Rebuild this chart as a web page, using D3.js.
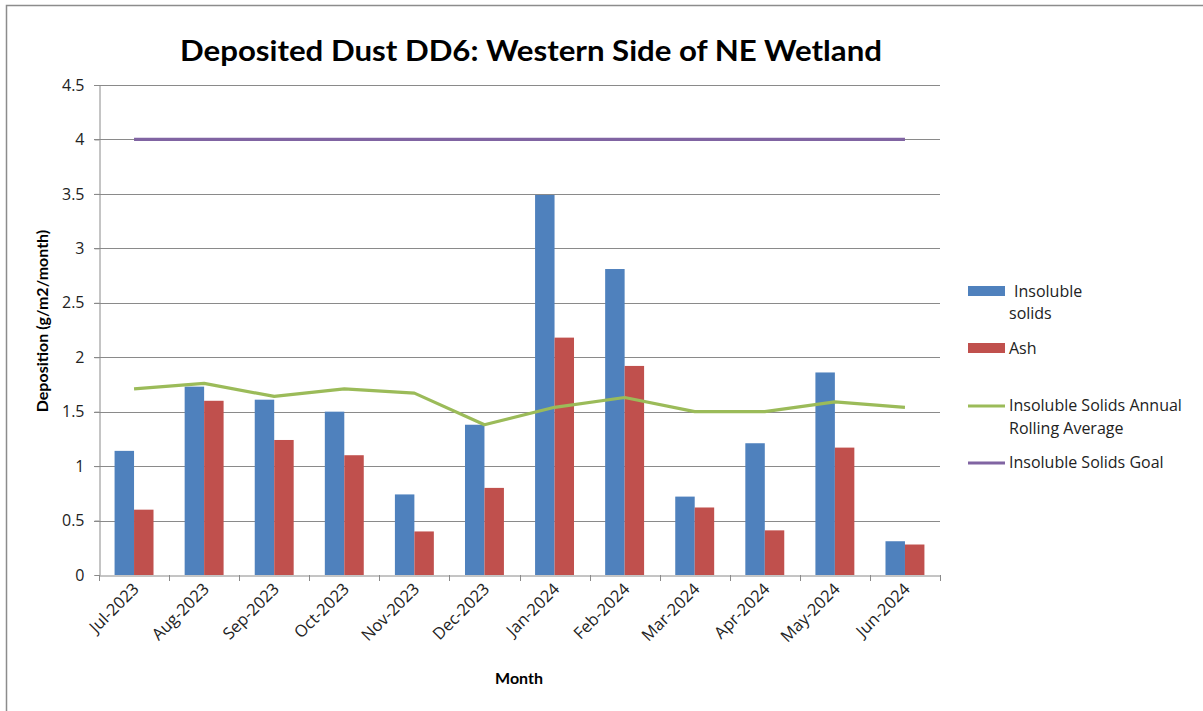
<!DOCTYPE html>
<html>
<head>
<meta charset="utf-8">
<script src="https://cdn.jsdelivr.net/npm/d3@7"></script>
<style>
  html, body { margin: 0; padding: 0; background: #fff; }
  svg { display: block; font-family: Lato, "Open Sans", "Liberation Sans", sans-serif; }
</style>
</head>
<body>
<svg id="chart" width="1203" height="711"></svg>
<script>
// Monthly deposited dust results, DD6
const months = ["Jul-2023", "Aug-2023", "Sep-2023", "Oct-2023", "Nov-2023", "Dec-2023",
                "Jan-2024", "Feb-2024", "Mar-2024", "Apr-2024", "May-2024", "Jun-2024"];
const insolubleSolids = [1.14, 1.73, 1.61, 1.50, 0.74, 1.38, 3.49, 2.81, 0.72, 1.21, 1.86, 0.31];
const ash = [0.60, 1.60, 1.24, 1.10, 0.40, 0.80, 2.18, 1.92, 0.62, 0.41, 1.17, 0.28];
const rollingAverage = [1.71, 1.76, 1.64, 1.71, 1.67, 1.38, 1.54, 1.63, 1.50, 1.50, 1.59, 1.54];
const goal = [4, 4, 4, 4, 4, 4, 4, 4, 4, 4, 4, 4];
const yTicks = [0, 0.5, 1, 1.5, 2, 2.5, 3, 3.5, 4, 4.5];

const colors = { insoluble: "#4f81bd", ash: "#c0504d", rolling: "#9bbb59", goal: "#8064a2" };

const svg = d3.select("#chart");
const m = { left: 99, right: 940, top: 85, bottom: 575 };

// outer frame
svg.append("rect")
  .attr("x", 6.5).attr("y", 5.5).attr("width", 1210).attr("height", 720)
  .attr("fill", "none").attr("stroke", "#8c8c8c").attr("stroke-width", 1.5);

const x = d3.scaleBand().domain(months).range([m.left, m.right]).paddingInner(0).paddingOuter(0);
const xSub = d3.scaleBand().domain(["ins", "ash"]).range([0, x.bandwidth()]).paddingOuter(0.8).paddingInner(0);
const y = d3.scaleLinear().domain([0, 4.5]).range([m.bottom, m.top]);

// horizontal gridlines
svg.append("g").selectAll("line").data(yTicks.filter(t => t > 0)).join("line")
  .attr("x1", m.left - 5).attr("x2", m.right)
  .attr("y1", d => Math.round(y(d)) + 0.5).attr("y2", d => Math.round(y(d)) + 0.5)
  .attr("stroke", "#8a8a8a").attr("stroke-width", 1);

// y axis
const yAxis = svg.append("g").attr("transform", `translate(${m.left + 0.5},0)`)
  .call(d3.axisLeft(y).tickValues(yTicks).tickSize(5).tickPadding(10).tickFormat(d => String(d)));
yAxis.select(".domain").attr("stroke", "#8a8a8a");
yAxis.selectAll(".tick line").attr("stroke", "#8a8a8a");
yAxis.selectAll(".tick text").attr("font-size", 16).attr("fill", "#222")
  .attr("font-family", "'Open Sans', Lato, sans-serif");

// bars
const groups = svg.append("g").selectAll("g").data(months).join("g")
  .attr("transform", d => `translate(${x(d)},0)`);
groups.append("rect")
  .attr("x", d => xSub("ins")).attr("width", xSub.bandwidth())
  .attr("y", (d, i) => y(insolubleSolids[i])).attr("height", (d, i) => y(0) - y(insolubleSolids[i]))
  .attr("fill", colors.insoluble);
groups.append("rect")
  .attr("x", d => xSub("ash")).attr("width", xSub.bandwidth())
  .attr("y", (d, i) => y(ash[i])).attr("height", (d, i) => y(0) - y(ash[i]))
  .attr("fill", colors.ash);

// x axis
const xAxis = svg.append("g").attr("transform", `translate(0,${m.bottom + 0.5})`)
  .call(d3.axisBottom(x).tickSize(0).tickFormat(""));
xAxis.select(".domain").attr("stroke", "#8a8a8a");
const edges = months.map(d => x(d)).concat([m.right]);
svg.append("g").selectAll("line").data(edges).join("line")
  .attr("x1", d => Math.round(d) + 0.5).attr("x2", d => Math.round(d) + 0.5)
  .attr("y1", m.bottom).attr("y2", m.bottom + 6).attr("stroke", "#8a8a8a");
svg.append("g").selectAll("text").data(months).join("text")
  .attr("transform", d => `translate(${x(d) + x.bandwidth() / 2 + 6},${m.bottom + 15}) rotate(-45)`)
  .attr("text-anchor", "end").attr("font-size", 16.5).attr("fill", "#222")
  .attr("font-family", "'Open Sans', Lato, sans-serif")
  .text(d => d);

// lines
const cx = d => x(d) + x.bandwidth() / 2;
const line = vals => d3.line().x((d, i) => cx(months[i])).y((d, i) => y(vals[i]))(vals);
svg.append("path").attr("d", line(goal)).attr("fill", "none")
  .attr("stroke", colors.goal).attr("stroke-width", 3.2);
svg.append("path").attr("d", line(rollingAverage)).attr("fill", "none")
  .attr("stroke", colors.rolling).attr("stroke-width", 3.2).attr("stroke-linejoin", "round");

// title
svg.append("text").attr("x", 531).attr("y", 61).attr("text-anchor", "middle")
  .attr("font-size", 29).attr("font-weight", "bold").attr("fill", "#000")
  .attr("textLength", 702).attr("lengthAdjust", "spacingAndGlyphs")
  .text("Deposited Dust DD6: Western Side of NE Wetland");

// axis titles
svg.append("text").attr("transform", "translate(48,321) rotate(-90)")
  .attr("text-anchor", "middle").attr("font-size", 16).attr("font-weight", "bold")
  .text("Deposition (g/m2/month)");
svg.append("text").attr("x", 519).attr("y", 684).attr("text-anchor", "middle")
  .attr("font-size", 16).attr("font-weight", "bold").text("Month");

// legend
const lg = svg.append("g").attr("font-size", 16).attr("fill", "#222")
  .attr("font-family", "'Open Sans', Lato, sans-serif");
lg.append("rect").attr("x", 968).attr("y", 286).attr("width", 37).attr("height", 10).attr("fill", colors.insoluble);
lg.append("text").attr("x", 1014).attr("y", 297).text("Insoluble");
lg.append("text").attr("x", 1009).attr("y", 319).text("solids");
lg.append("rect").attr("x", 968).attr("y", 343).attr("width", 37).attr("height", 10).attr("fill", colors.ash);
lg.append("text").attr("x", 1009).attr("y", 354).text("Ash");
lg.append("line").attr("x1", 968).attr("x2", 1005).attr("y1", 406).attr("y2", 406)
  .attr("stroke", colors.rolling).attr("stroke-width", 3.2);
lg.append("text").attr("x", 1009).attr("y", 411).text("Insoluble Solids Annual");
lg.append("text").attr("x", 1009).attr("y", 434).text("Rolling Average");
lg.append("line").attr("x1", 968).attr("x2", 1005).attr("y1", 463).attr("y2", 463)
  .attr("stroke", colors.goal).attr("stroke-width", 3.2);
lg.append("text").attr("x", 1009).attr("y", 468).text("Insoluble Solids Goal");
</script>
</body>
</html>
